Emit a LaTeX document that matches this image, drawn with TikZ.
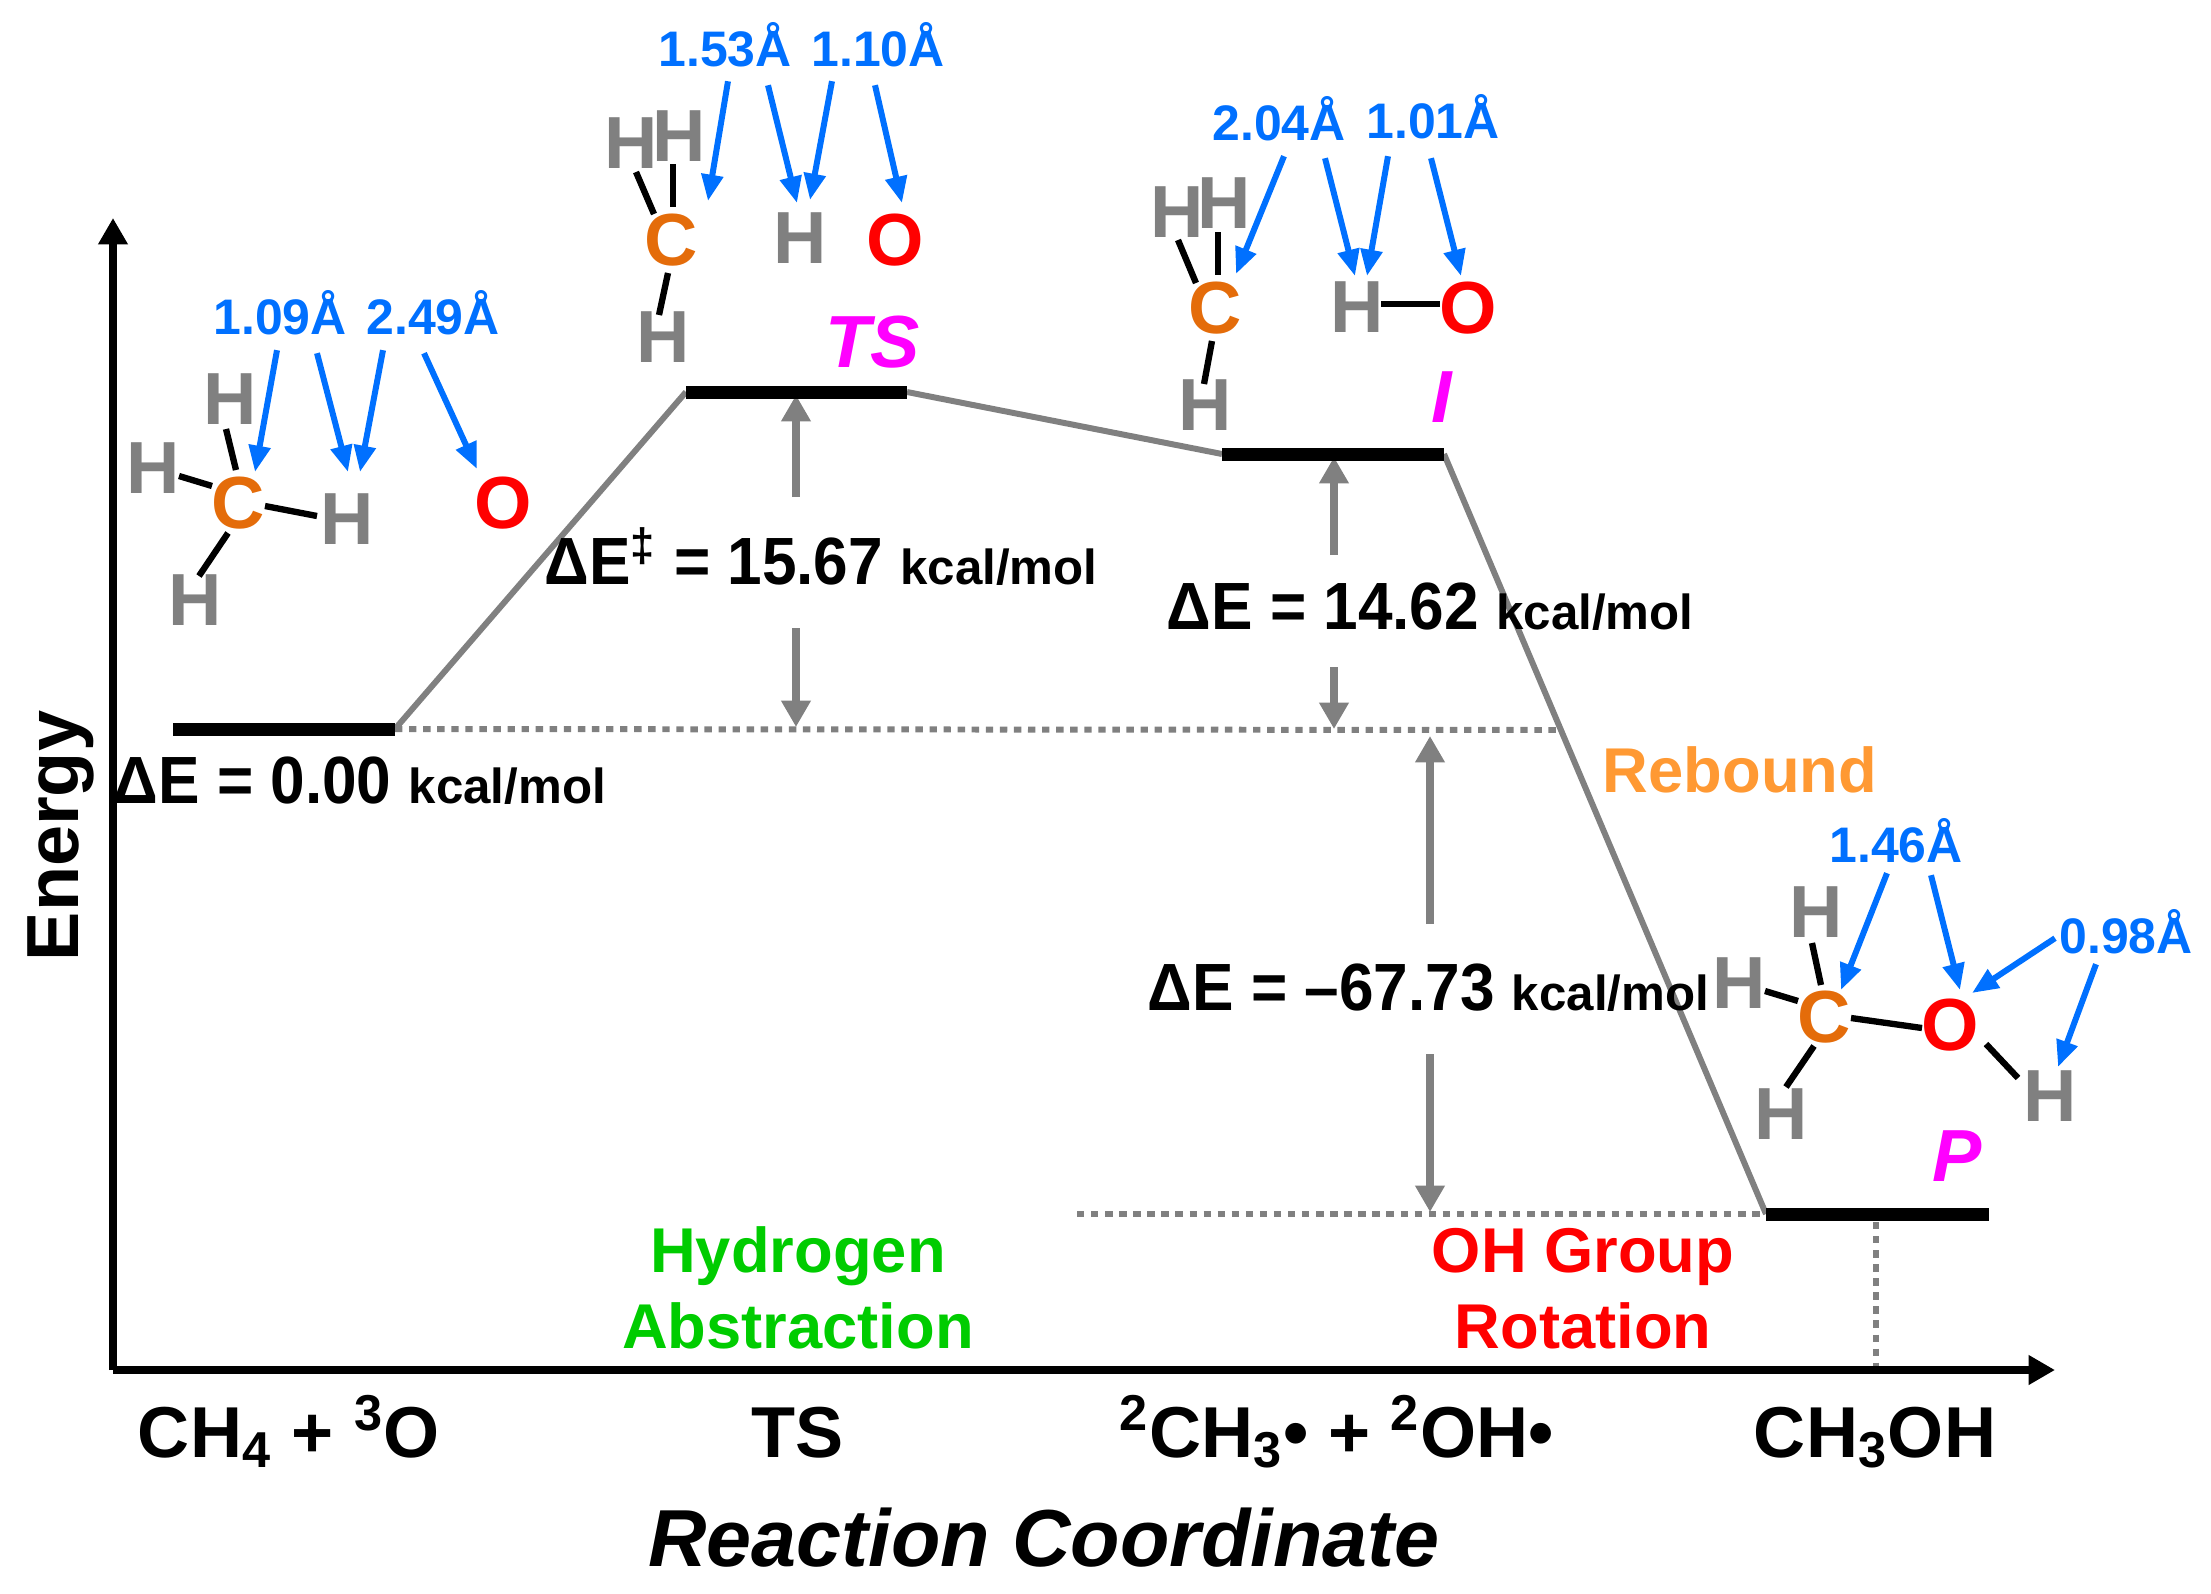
\documentclass[tikz,border=0pt]{standalone}
\usepackage{fontspec}
\setmainfont{Liberation Sans}
\newfontfamily\condensed[FakeStretch=0.93]{Liberation Sans}
\usetikzlibrary{calc}
\usetikzlibrary{arrows.meta}
\definecolor{distblue}{HTML}{0070FF}
\definecolor{carbon}{HTML}{E46C0A}
\definecolor{rebound}{HTML}{FF9933}
\definecolor{abstraction}{HTML}{00CC00}
\definecolor{statepink}{HTML}{FF00FF}
\tikzset{
    atom/.style={font=\bfseries\fontsize{21}{24}\selectfont, inner sep=1.5pt},
    hatom/.style={atom, text=gray},
    catom/.style={atom, text=carbon},
    oatom/.style={atom, text=red},
    bond/.style={black, line width=1.8pt},
    dist/.style={distblue, line width=1.7pt, -{Triangle[width=6pt,length=7.5pt]}},
    distlabel/.style={font=\bfseries\fontsize{14.2}{16}\selectfont, text=distblue, anchor=base, inner sep=0pt},
    axis/.style={black, line width=2.1pt, -{Triangle[width=8pt,length=7.5pt]}},
    level/.style={black, line width=3.7pt},
    path/.style={gray, line width=1.7pt},
    guide/.style={gray, line width=1.7pt, dash pattern=on 2.1pt off 1.9pt},
    gap/.style={gray, line width=2.1pt, -{Triangle[width=8pt,length=7.5pt]}},
    energy/.style={font=\condensed\bfseries\fontsize{19}{22}\selectfont, anchor=base west, inner sep=0pt},
    state/.style={font=\bfseries\itshape\fontsize{21}{24}\selectfont, text=statepink, inner sep=0pt},
    step name/.style={font=\bfseries\fontsize{18}{21.6}\selectfont, align=center, inner sep=0pt},
    species/.style={font=\bfseries\fontsize{20.5}{24}\selectfont, anchor=base, inner sep=0pt}
    }
\newcommand{\unitkcal}{{\normalfont\bfseries\fontsize{14}{16}\selectfont kcal/mol}}

\begin{document}
\begin{tikzpicture}[x=0.01cm,y=-0.01cm]
	\useasboundingbox (0,0) rectangle (2211,1593);

	\coordinate (RL) at (173,729);
	\coordinate (RR) at (395,729);
	\coordinate (TL) at (686,392);
	\coordinate (TR) at (907,392);
	\coordinate (IL) at (1222,454);
	\coordinate (IR) at (1444,454);
	\coordinate (PL) at (1766,1214);
	\coordinate (PR) at (1989,1214);
	\coordinate (O) at (113,1370);
	\coordinate (Ytop) at (113,218);
	\coordinate (Xend) at (2055,1370);

	\draw[path] (RR)--(TL);
	\draw[path] (TR)--(IL);
	\draw[path] (IR)--(PL);
	\draw[guide] (RR)--(1561,730);
	\draw[guide] (1077,1214)--(PL);
	\draw[guide] (1876,1222)--(1876,1370);

	\draw[gap] (796,497)--(796,395);
	\draw[gap] (796,628)--(796,727);
	\draw[gap] (1334,555)--(1334,457);
	\draw[gap] (1334,667)--(1334,729);
	\draw[gap] (1430,924)--(1430,736);
	\draw[gap] (1430,1054)--(1430,1212);

	\draw[axis] (O)--(Ytop);
	\draw[axis] (O)--(Xend);
	\draw[level] (RL)--(RR);
	\draw[level] (TL)--(TR);
	\draw[level] (IL)--(IR);
	\draw[level] (PL)--(PR);

	% reactants
	\node[catom] (C1) at (238,503) {C};
	\node[hatom] (H1t) at (230,399) {H};
	\node[hatom] (H1l) at (153,468) {H};
	\node[hatom] (H1r) at (347,519) {H};
	\node[hatom] (H1b) at (195,600) {H};
	\node[oatom] (O1) at (503,503) {O};
	\draw[bond] ($(H1t)+(-4,30)$)--($(C1)+(-2,-33)$);
	\draw[bond] ($(H1l)+(26,8)$)--($(C1)+(-26,-17)$);
	\draw[bond] ($(C1)+(27,3)$)--($(H1r)+(-30,-3)$);
	\draw[bond] ($(C1)+(-10,30)$)--($(H1b)+(4,-24)$);
	\node[distlabel] (L1) at (280,334) {1.09Å};
	\node[distlabel] (L2) at (433,334) {2.49Å};
	\draw[dist] ($(L1.south)+(-3,15)$)--($(C1)+(17,-31)$);
	\draw[dist] ($(L1.south)+(37,18)$)--($(H1r)+(1,-47)$);
	\draw[dist] ($(L2.south)+(-50,15)$)--($(H1r)+(13,-47)$);
	\draw[dist] ($(L2.south)+(-9,18)$)--($(O1)+(-26,-34)$);

	% transition state
	\node[catom] (C2) at (671,240) {C};
	\node[hatom] (H2l) at (631,143) {H};
	\node[hatom] (H2t) at (679,136) {H};
	\node[hatom] (H2r) at (800,238) {H};
	\node[hatom] (H2b) at (663,337) {H};
	\node[oatom] (O2) at (895,240) {O};
	\draw[bond] ($(H2l)+(5,29)$)--($(C2)+(-17,-26)$);
	\draw[bond] ($(H2t)+(-6,28)$)--($(C2)+(2,-33)$);
	\draw[bond] ($(C2)+(-3,33)$)--($(H2b)+(-4,-22)$);
	\node[distlabel] (L3) at (725,66) {1.53Å};
	\node[distlabel] (L4) at (878,66) {1.10Å};
	\draw[dist] ($(L3.south)+(3,14)$)--($(C2)+(37,-39)$);
	\draw[dist] ($(L3.south)+(43,18)$)--($(H2r)+(-3,-35)$);
	\draw[dist] ($(L4.south)+(-46,14)$)--($(H2r)+(10,-38)$);
	\draw[dist] ($(L4.south)+(-3,18)$)--($(O2)+(7,-37)$);

	% intermediate
	\node[catom] (C3) at (1215,308) {C};
	\node[hatom] (H3l) at (1177,212) {H};
	\node[hatom] (H3t) at (1224,203) {H};
	\node[hatom] (H3r) at (1357,307) {H};
	\node[hatom] (H3b) at (1205,405) {H};
	\node[oatom] (O3) at (1468,308) {O};
	\draw[bond] ($(H3l)+(1,28)$)--($(C3)+(-19,-25)$);
	\draw[bond] ($(H3t)+(-6,29)$)--($(C3)+(3,-33)$);
	\draw[bond] ($(C3)+(-3,33)$)--($(H3b)+(-1,-21)$);
	\draw[bond] ($(H3r)+(24,-3)$)--($(O3)+(-28,-4)$);
	\node[distlabel] (L5) at (1279,140) {2.04Å};
	\node[distlabel] (L6) at (1433,138) {1.01Å};
	\draw[dist] ($(L5.south)+(5,15)$)--($(C3)+(21,-34)$);
	\draw[dist] ($(L5.south)+(46,17)$)--($(H3r)+(-2,-31)$);
	\draw[dist] ($(L6.south)+(-45,17)$)--($(H3r)+(10,-31)$);
	\draw[dist] ($(L6.south)+(-2,19)$)--($(O3)+(-7,-32)$);

	% product
	\node[catom] (C4) at (1824,1017) {C};
	\node[hatom] (H4t) at (1816,912) {H};
	\node[hatom] (H4l) at (1739,983) {H};
	\node[hatom] (H4b) at (1781,1114) {H};
	\node[oatom] (O4) at (1950,1025) {O};
	\node[hatom] (H4r) at (2050,1096) {H};
	\draw[bond] ($(H4t)+(-4,31)$)--($(C4)+(-3,-32)$);
	\draw[bond] ($(H4l)+(26,8)$)--($(C4)+(-26,-16)$);
	\draw[bond] ($(C4)+(27,1)$)--($(O4)+(-28,3)$);
	\draw[bond] ($(C4)+(-10,29)$)--($(H4b)+(5,-27)$);
	\draw[bond] ($(O4)+(36,19)$)--($(H4r)+(-32,-18)$);
	\node[distlabel] (L7) at (1896,862) {1.46Å};
	\node[distlabel] (L8) at (2126,953) {0.98Å};
	\draw[dist] ($(L7.south)+(-9,10)$)--($(C4)+(17,-27)$);
	\draw[dist] ($(L7.south)+(35,12)$)--($(O4)+(10,-35)$);
	\draw[dist] ($(L8.south)+(-71,-16)$)--($(O4)+(22,-32)$);
	\draw[dist] ($(L8.south)+(-30,10)$)--($(H4r)+(8,-29)$);

	\node[state] (sTS) at (873,342) {TS};
	\node[state] (sI) at (1442,397) {I};
	\node[state] (sP) at (1957,1156) {P};

	\node[energy] (e0) at (113,803) {ΔE = 0.00 \unitkcal};
	\node[energy] (e1) at (544,584) {ΔE\textsuperscript{‡} = 15.67 \unitkcal};
	\node[energy] (e2) at (1166,629) {ΔE = 14.62 \unitkcal};
	\node[energy] (e3) at (1147,1010) {ΔE = –67.73 \unitkcal};

	\node[step name, text=rebound] (rebound) at (1740,770) {Rebound};
	\node[step name, text=abstraction] (hydrogen) at (798,1288) {Hydrogen\\Abstraction};
	\node[step name, text=red] (rotation) at (1583,1289) {OH Group\\Rotation};

	\node[species] (xR) at (289,1457) {CH\textsubscript{4} + \textsuperscript{3}O};
	\node[species] (xT) at (798,1457) {TS};
	\node[species] (xI) at (1337,1457) {\textsuperscript{2}CH\textsubscript{3}• + \textsuperscript{2}OH•};
	\node[species] (xP) at (1875,1457) {CH\textsubscript{3}OH};

	\node[font=\bfseries\itshape\fontsize{23}{26}\selectfont, anchor=base, inner sep=0pt] (xname) at (1044,1566) {Reaction Coordinate};
	\node[font=\bfseries\fontsize{21}{24}\selectfont, rotate=90, anchor=base, inner sep=0pt] (yname) at (78,836) {Energy};
\end{tikzpicture}
\end{document}
